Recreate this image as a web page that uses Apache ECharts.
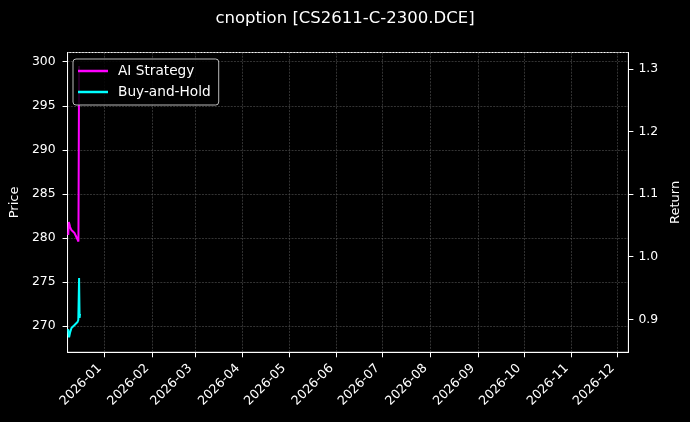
<!DOCTYPE html>
<html>
<head>
<meta charset="utf-8">
<script src="https://cdn.jsdelivr.net/npm/echarts@6/dist/echarts.min.js"></script>
<style>
html, body { margin: 0; padding: 0; background: #000; }
#container1 { width: 690px; height: 422px; }
</style>
</head>
<body>
<div id="container1"></div>
<script>
// values
var aiTimes = ['2025-12-08 11:00', '2025-12-08 20:00', '2025-12-09 16:00', '2025-12-10 12:00',
               '2025-12-11 12:00', '2025-12-12 12:00', '2025-12-14 12:00', '2025-12-15 02:00',
               '2025-12-15 12:00'];
var aiValues = [1.0347, 1.0555, 1.0475, 1.0427, 1.0411, 1.0379, 1.0275, 1.0243, 1.3048];

var bhTimes = ['2025-12-08 10:00', '2025-12-09 00:00', '2025-12-09 14:00', '2025-12-10 13:00',
               '2025-12-11 14:00', '2025-12-12 13:00', '2025-12-14 12:00', '2025-12-15 00:00',
               '2025-12-15 12:00', '2025-12-15 20:00', '2025-12-16 03:00'];
var bhValues = [0.8845, 0.8712, 0.8781, 0.8861, 0.8877, 0.8909, 0.8957, 0.8989, 0.9660, 0.9021, 0.9085];

var seriesNames = ['AI Strategy', 'Buy-and-Hold'];
var colorList = ['#ff00ff', '#00ffff'];

var myChart = echarts.init(document.getElementById('container1'));
initChart();

function pairs(times, values) {
    var out = [];
    for (var i = 0; i < times.length; i++) {
        out.push([times[i], values[i]]);
    }
    return out;
}

function initChart() {
    var font = 'DejaVu Sans';
    var gridLine = { show: true, lineStyle: { color: '#555', width: 0.6, type: [2, 1.2] } };

    var option = {
        backgroundColor: '#000',
        animation: false,
        title: {
            text: 'cnoption [CS2611-C-2300.DCE]',
            left: 'center',
            top: 10,
            padding: 0,
            textStyle: { color: '#fff', fontSize: 16.5, fontWeight: 'normal', fontFamily: font }
        },
        legend: {
            data: seriesNames,
            orient: 'vertical',
            left: 73,
            top: 59,
            padding: [4, 8, 5, 5],
            itemGap: 5,
            itemWidth: 30,
            itemHeight: 2.5,
            icon: 'rect',
            backgroundColor: 'rgba(0,0,0,0.85)',
            borderColor: '#bbb',
            borderWidth: 1,
            borderRadius: 3,
            textStyle: { color: '#fff', fontSize: 13.7, fontFamily: font, lineHeight: 16, padding: [0, 0, 0, 5] }
        },
        grid: {
            left: 66.5, right: 60.6, top: 52.5, bottom: 69.7,
            show: true, borderColor: '#fff', borderWidth: 1, backgroundColor: '#000'
        },
        xAxis: {
            type: 'time',
            min: '2025-12-08',
            max: '2026-12-08',
            splitNumber: 12,
            axisLine: { lineStyle: { color: '#fff' } },
            axisTick: { show: true, length: 5, lineStyle: { color: '#fff' } },
            splitLine: gridLine,
            axisLabel: {
                color: '#fff', fontSize: 12.6, fontFamily: font, rotate: 45, margin: 9,
                padding: [0, 7, 0, 0],
                formatter: function (v) { return echarts.time.format(v, '{yyyy}-{MM}', false); }
            }
        },
        yAxis: [{
            type: 'value',
            name: 'Price',
            nameLocation: 'middle',
            nameRotate: 90,
            nameGap: 38,
            nameTextStyle: { color: '#fff', fontSize: 13, fontFamily: font },
            min: 267.0,
            max: 301.05,
            splitNumber: 7,
            axisLine: { show: true, lineStyle: { color: '#fff' } },
            axisTick: { show: true, length: 5, lineStyle: { color: '#fff' } },
            splitLine: gridLine,
            axisLabel: { color: '#fff', fontSize: 12.4, fontFamily: font, margin: 12, showMinLabel: false, showMaxLabel: false }
        }, {
            type: 'value',
            name: 'Return',
            nameLocation: 'middle',
            nameRotate: 90,
            nameGap: 30,
            nameTextStyle: { color: '#fff', fontSize: 13, fontFamily: font },
            min: 0.8473,
            max: 1.3264,
            splitNumber: 5,
            axisLine: { show: true, lineStyle: { color: '#fff' } },
            axisTick: { show: true, length: 5, lineStyle: { color: '#fff' } },
            splitLine: { show: false },
            axisLabel: {
                color: '#fff', fontSize: 12.4, fontFamily: font, margin: 10, showMinLabel: false, showMaxLabel: false,
                formatter: function (v) { return v.toFixed(1); }
            }
        }],
        series: [{
            name: seriesNames[0],
            type: 'line',
            yAxisIndex: 1,
            data: pairs(aiTimes, aiValues),
            showSymbol: false,
            lineStyle: { width: 2, color: colorList[0] },
            itemStyle: { color: colorList[0] }
        }, {
            name: seriesNames[1],
            type: 'line',
            yAxisIndex: 1,
            data: pairs(bhTimes, bhValues),
            showSymbol: false,
            lineStyle: { width: 2, color: colorList[1] },
            itemStyle: { color: colorList[1] }
        }]
    };
    myChart.setOption(option);
}
</script>
</body>
</html>
